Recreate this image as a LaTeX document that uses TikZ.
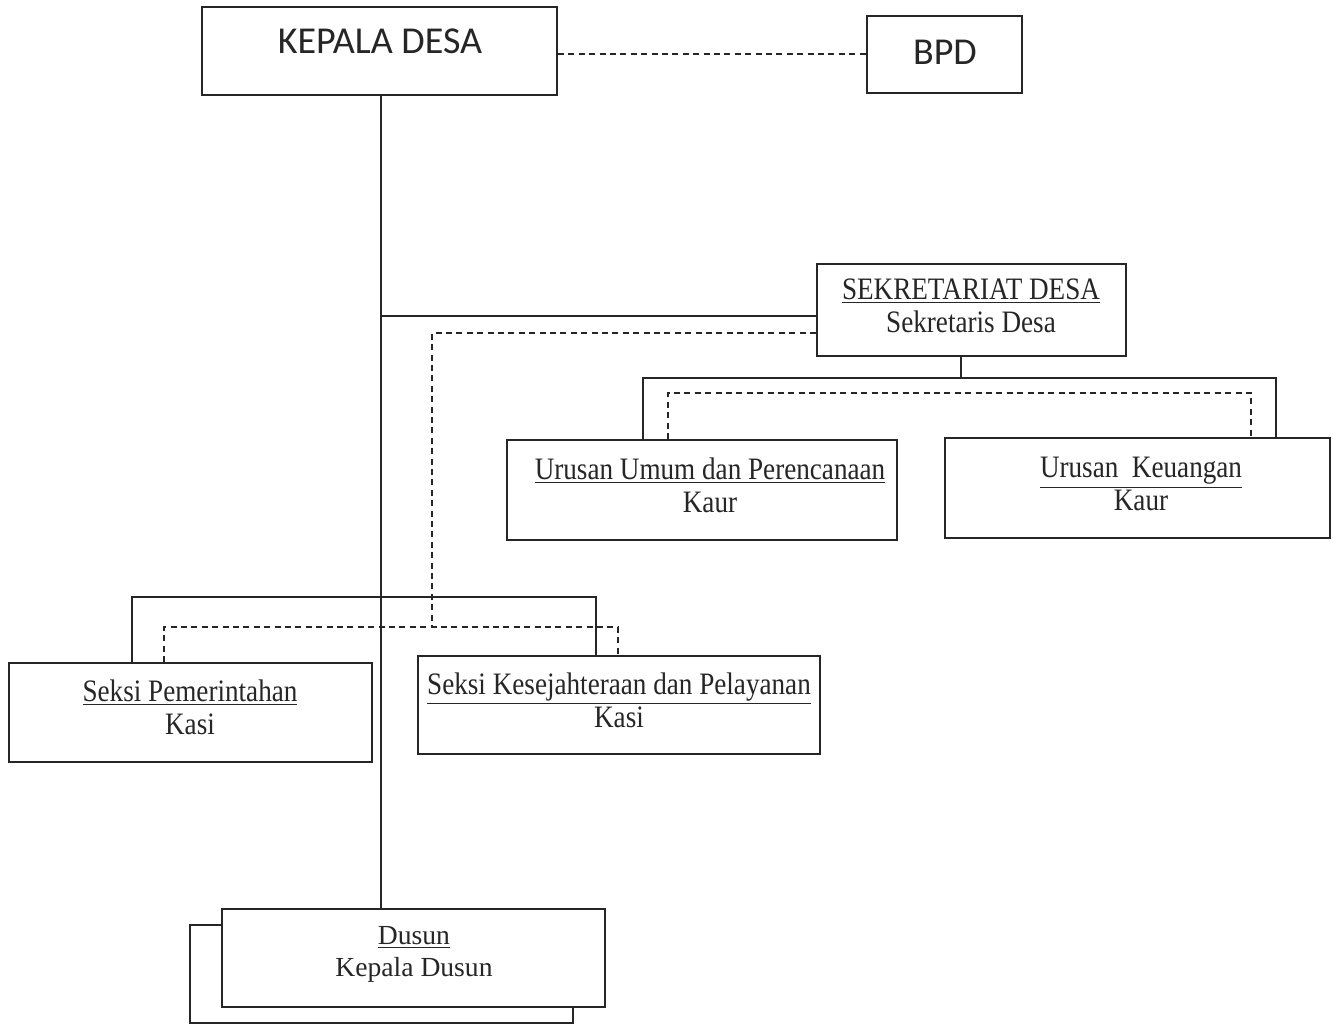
\documentclass[tikz,border=0pt]{standalone}
\usepackage{fontspec}
\setmainfont{Liberation Serif}
\newfontfamily\condserif[FakeStretch=0.87]{Liberation Serif}
\newfontfamily\calib{Carlito}
\usetikzlibrary{fit}
\begin{document}
\begin{tikzpicture}[x=0.5pt,y=-0.5pt,
  box/.style={draw=black!85, line width=1pt, rectangle, inner sep=0pt, fill=white},
  ln/.style={draw=black!85, line width=1pt},
  dsh/.style={draw=black!85, line width=1pt, dash pattern=on 3pt off 2.2pt},
  txt/.style={inner sep=0pt, align=center, text=black!85, font=\condserif\fontsize{15.6}{16.5}\selectfont},
  dtxt/.style={inner sep=0pt, align=center, text=black!85, font=\fontsize{13.8}{16}\selectfont},
  stxt/.style={inner sep=0pt, align=center, text=black!85, font=\calib\fontsize{19}{22}\selectfont}]
\useasboundingbox (0,0) rectangle (1337,1026);
\fill[white] (0,0) rectangle (1337,1026);
\coordinate (spine) at (381,0);
% boxes
\node[box, fit={(202,7)(557,95)}] (kd) {};
\node[box, fit={(867,16)(1022,93)}] (bpd) {};
\node[box, fit={(817,264)(1126,356)}] (sek) {};
\node[box, fit={(507,440)(897,540)}] (uu) {};
\node[box, fit={(945,438)(1330,538)}] (uk) {};
\node[box, fit={(9,663)(372,762)}] (sp) {};
\node[box, fit={(418,656)(820,754)}] (sk) {};
\node[box, fit={(190,925)(573,1023)}] (dusb) {};
\node[box, fit={(222,909)(605,1007)}] (dus) {};
% texts
\node[stxt] (kdt) at (380,41) {KEPALA DESA};
\node[stxt] (bpdt) at (945,52) {BPD};
\node[txt] (sekt) at (971,306) {\underline{SEKRETARIAT DESA}\\Sekretaris Desa};
\node[txt] (uut) at (710,485) {\underline{Urusan Umum dan Perencanaan}\\Kaur};
\node[txt] (ukt) at (1141,484) {\underline{Urusan\ \ Keuangan}\\Kaur};
\node[txt] (spt) at (190,707) {\underline{Seksi Pemerintahan}\\Kasi};
\node[txt] (skt) at (619,700) {\underline{Seksi Kesejahteraan dan Pelayanan}\\Kasi};
\node[dtxt] (dust) at (414,954) {\underline{Dusun}\\Kepala Dusun};
% connectors
\draw[dsh] (kd.east |- 0,54) -- (bpd.west |- 0,54);
\draw[ln] (kd.south -| spine) -- (dus.north -| spine);
\draw[ln] (spine |- 0,316) -- (sek.west |- 0,316);
\draw[dsh] (sek.west |- 0,333) -- (432,333) -- (432,627);
\draw[ln] (sek.south -| 961,0) -- (961,378);
\draw[ln] (uu.north -| 643,0) -- (643,378) -- (1276,378) -- (uk.north -| 1276,0);
\draw[dsh] (uu.north -| 668,0) -- (668,393) -- (1251,393) -- (uk.north -| 1251,0);
\draw[ln] (sp.north -| 132,0) -- (132,597) -- (596,597) -- (sk.north -| 596,0);
\draw[dsh] (sp.north -| 164,0) -- (164,627) -- (618,627) -- (sk.north -| 618,0);
\end{tikzpicture}
\end{document}
